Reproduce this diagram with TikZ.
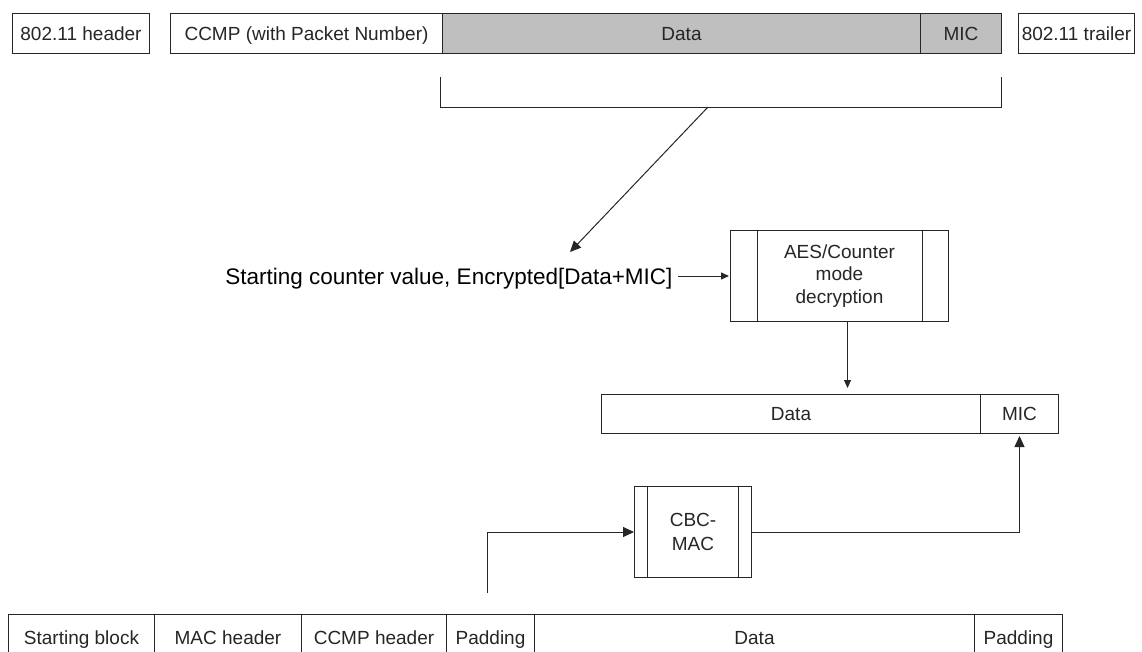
\documentclass[tikz,border=0pt]{standalone}
\usepackage{fontspec}
\setmainfont{Liberation Sans}
\usetikzlibrary{arrows.meta}
\begin{document}
\begin{tikzpicture}[x=1pt,y=-1pt,line width=1pt,
  ink/.style={draw=black!85},
  field/.style={draw=black!85, rectangle, inner sep=0pt, anchor=north west,
    text height=13.6pt, text depth=0pt, text=black!85,
    font=\fontsize{19}{22}\selectfont},
  encfield/.style={field, fill=black!25},
  proc/.style={draw=black!85, rectangle, inner sep=0pt, anchor=north west,
    align=center, text=black!85},
  arr/.style={draw=black!85, -{Triangle[length=11pt,width=10pt]}},
  smallarr/.style={draw=black!85, -{Triangle[length=8pt,width=7pt]}},
]
\useasboundingbox (0,0) rectangle (1142,651);
\clip (0,0) rectangle (1142,651);
\fill[white] (0,0) rectangle (1142,651);

% received frame
\node[field, minimum width=137, minimum height=40] (hdr) at (12,13) {802.11 header};
\node[field, minimum width=272, minimum height=40] (ccmp) at (170,13) {CCMP (with Packet Number)};
\node[encfield, minimum width=478, minimum height=40] (pdata) at (442,13) {Data};
\node[encfield, minimum width=81, minimum height=40] (pmic) at (920,13) {MIC};
\node[field, minimum width=116, minimum height=40] (trl) at (1018,13) {802.11 trailer};

% bracket over the encrypted part
\coordinate (brl) at (440,77);
\coordinate (brr) at (1001,77);
\coordinate (brk) at (708,107);
\draw[ink] (brl) -- (440,107) -- (1001,107) -- (brr);

% decryption input
\node[anchor=east, inner sep=0pt, text height=16pt, text depth=0pt, text=black,
  font=\fontsize{22.5}{26}\selectfont] (scv) at (673,276)
  {Starting counter value, Encrypted[Data+MIC]};
\coordinate (scvtop) at (570,252);
\draw[arr] (brk) -- (scvtop);

% AES/Counter block
\node[proc, minimum width=218, minimum height=91,
  font=\fontsize{19}{22.5}\selectfont] (aes) at (730,230)
  {AES/Counter\\mode\\decryption};
\draw[ink] ([xshift=27pt]aes.north west) -- ([xshift=27pt]aes.south west);
\draw[ink] ([xshift=-27pt]aes.north east) -- ([xshift=-27pt]aes.south east);
\draw[smallarr, shorten >=1pt] ([xshift=5pt]scv.east) -- (aes.west);

% decrypted payload
\node[field, minimum width=379, minimum height=39] (mdata) at (601,394) {Data};
\node[field, minimum width=78, minimum height=39] (mmic) at (980,394) {MIC};
\draw[smallarr, shorten >=6pt] ([xshift=8pt]aes.south) -- ([xshift=8pt]aes.south |- mdata.north);

% CBC-MAC block
\node[proc, minimum width=117, minimum height=91,
  font=\fontsize{19}{24}\selectfont] (cbc) at (634,486) {CBC-\\MAC};
\draw[ink] ([xshift=13pt]cbc.north west) -- ([xshift=13pt]cbc.south west);
\draw[ink] ([xshift=-14pt]cbc.north east) -- ([xshift=-14pt]cbc.south east);

% MIC computation input
\node[field, minimum width=146, minimum height=46] (sb) at (8,614) {Starting block};
\node[field, minimum width=147, minimum height=46] (mac) at (154,614) {MAC header};
\node[field, minimum width=145, minimum height=46] (ccmph) at (301,614) {CCMP header};
\node[field, minimum width=88, minimum height=46] (pad1) at (446,614) {Padding};
\node[field, minimum width=440, minimum height=46] (bdata) at (534,614) {Data};
\node[field, minimum width=88, minimum height=46] (pad2) at (974,614) {Padding};

\coordinate (feed) at (487,593);
\draw[arr] (feed) |- (cbc.west);
\draw[arr, shorten >=2pt] (cbc.east) -| (mmic.south);
\end{tikzpicture}
\end{document}
